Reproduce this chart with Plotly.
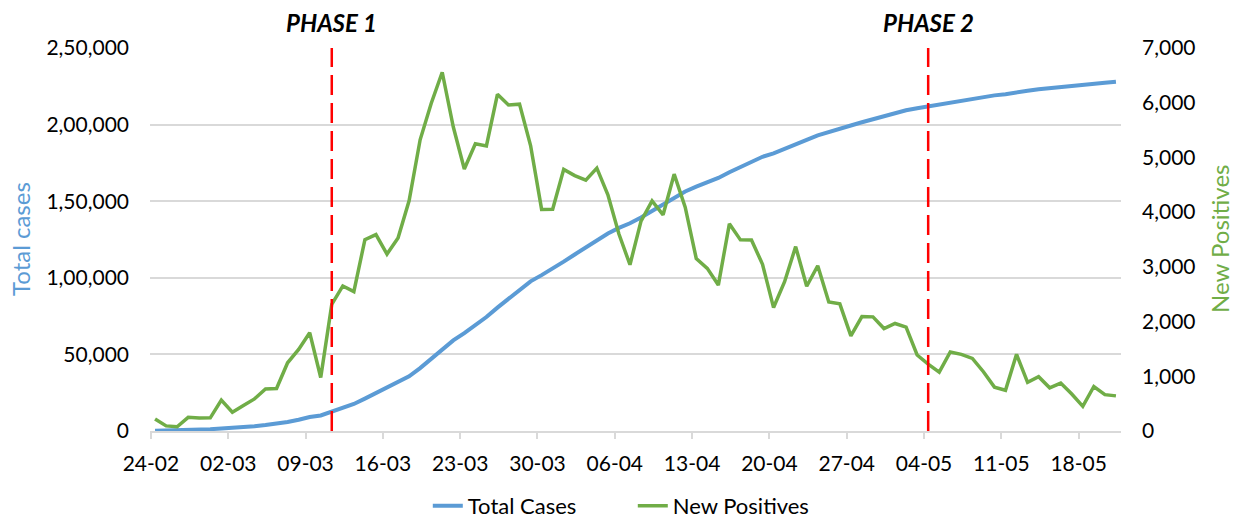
import pandas as pd
import plotly.graph_objects as go

dates = pd.date_range("2020-02-24", periods=88, freq="D")

total_cases = [229, 322, 400, 650, 888, 1128, 1694, 2036, 2502, 3089, 3858, 4636, 5883, 7375,
               9172, 10149, 12462, 15113, 17660, 21157, 24747, 27980, 31506, 35713, 41035, 47021,
               53578, 59138, 63927, 69176, 74386, 80539, 86498, 92472, 97689, 101739, 105792,
               110574, 115242, 119827, 124632, 128948, 132547, 135586, 139422, 143626, 147577,
               152271, 156363, 159516, 162488, 165155, 168941, 172434, 175925, 178972, 181228,
               183957, 187327, 189973, 192994, 195351, 197675, 199414, 201505, 203591, 205463,
               207428, 209328, 210717, 211938, 213013, 214457, 215858, 217185, 218268, 219070,
               219814, 221216, 222104, 223096, 223885, 224760, 225435, 225886, 226699, 227364,
               228006]

new_positives = [221, 93, 78, 250, 238, 240, 566, 342, 466, 587, 769, 778, 1247, 1492, 1797, 977,
                 2313, 2651, 2547, 3497, 3590, 3233, 3526, 4207, 5322, 5986, 6557, 5560, 4789,
                 5249, 5210, 6153, 5959, 5974, 5217, 4050, 4053, 4782, 4668, 4585, 4805, 4316,
                 3599, 3039, 3836, 4204, 3951, 4694, 4092, 3153, 2972, 2667, 3786, 3493, 3491,
                 3047, 2256, 2729, 3370, 2646, 3021, 2357, 2324, 1739, 2091, 2086, 1872, 1965,
                 1900, 1389, 1221, 1075, 1444, 1401, 1327, 1083, 802, 744, 1402, 888, 992, 789,
                 875, 675, 451, 813, 665, 642]

x_tick_labels = ["24-02", "02-03", "09-03", "16-03", "23-03", "30-03", "06-04", "13-04",
                 "20-04", "27-04", "04-05", "11-05", "18-05"]
left_tick_vals = [0, 50000, 100000, 150000, 200000, 250000]
left_tick_text = ["0", "50,000", "1,00,000", "1,50,000", "2,00,000", "2,50,000"]
right_tick_vals = [0, 1000, 2000, 3000, 4000, 5000, 6000, 7000]
right_tick_text = ["0", "1,000", "2,000", "3,000", "4,000", "5,000", "6,000", "7,000"]
phase_dates = ["2020-03-11", "2020-05-04"]
phase_labels = ["PHASE 1", "PHASE 2"]

BLUE = "#5B9BD5"
GREEN = "#70AD47"
FONT = "Lato"

fig = go.Figure()
fig.add_trace(go.Scatter(x=dates, y=total_cases, name="Total Cases", mode="lines",
                         line=dict(color=BLUE, width=4), yaxis="y"))
fig.add_trace(go.Scatter(x=dates, y=new_positives, name="New Positives", mode="lines",
                         line=dict(color=GREEN, width=3.5), yaxis="y2"))

offset = pd.Timedelta(hours=9)
tickvals = [dates[0] + pd.Timedelta(days=7 * i) - offset for i in range(len(x_tick_labels))]

for d, lab in zip(phase_dates, phase_labels):
    fig.add_shape(type="line", xref="x", yref="paper", x0=d, x1=d, y0=0, y1=1,
                  line=dict(color="#FF0000", width=2.5, dash="20px,8px"), layer="above")
    fig.add_annotation(x=d, xref="x", y=1, yref="paper", yanchor="middle", yshift=26,
                       text="<b><i>" + lab + "</i></b>", showarrow=False,
                       font=dict(family=FONT, size=24, color="black"))

fig.add_annotation(x=0, xref="paper", y=0.5, yref="paper", xshift=-146, textangle=-90,
                   text="Total cases", showarrow=False,
                   font=dict(family=FONT, size=24, color=BLUE))
fig.add_annotation(x=1, xref="paper", y=0.5, yref="paper", xshift=115, textangle=-90,
                   text="New Positives", showarrow=False,
                   font=dict(family=FONT, size=24, color=GREEN))

fig.update_layout(
    width=1240, height=519,
    margin=dict(l=150, r=119, t=48, b=88, autoexpand=False),
    paper_bgcolor="white", plot_bgcolor="white",
    font=dict(family=FONT, size=21, color="black"),
    showlegend=True,
    legend=dict(orientation="h", x=0.345, xanchor="left", xref="container",
                y=0.025, yanchor="middle", yref="container",
                font=dict(family=FONT, size=22), entrywidth=160, entrywidthmode="pixels",
                tracegroupgap=0),
    xaxis=dict(range=[dates[0] - pd.Timedelta(hours=11), dates[-1] + pd.Timedelta(hours=11)],
               tickmode="array", tickvals=tickvals, ticktext=x_tick_labels,
               ticks="outside", ticklen=6, tickcolor="#D9D9D9", tickwidth=1.5,
               showline=True, linecolor="#D9D9D9", linewidth=1.5,
               showgrid=False, zeroline=False, ticklabelstandoff=7,
               tickfont=dict(family=FONT, size=21)),
    yaxis=dict(range=[0, 250000], tickmode="array", tickvals=left_tick_vals,
               ticktext=left_tick_text, showgrid=True, gridcolor="#D9D9D9", gridwidth=1.5,
               zeroline=False, showline=False, ticklabelstandoff=20,
               tickfont=dict(family=FONT, size=21)),
    yaxis2=dict(range=[0, 7000], tickmode="array", tickvals=right_tick_vals,
                ticktext=right_tick_text, overlaying="y", side="right", showgrid=False,
                zeroline=False, showline=False, ticklabelstandoff=20,
                tickfont=dict(family=FONT, size=21)),
)

fig.write_html("out.html")
